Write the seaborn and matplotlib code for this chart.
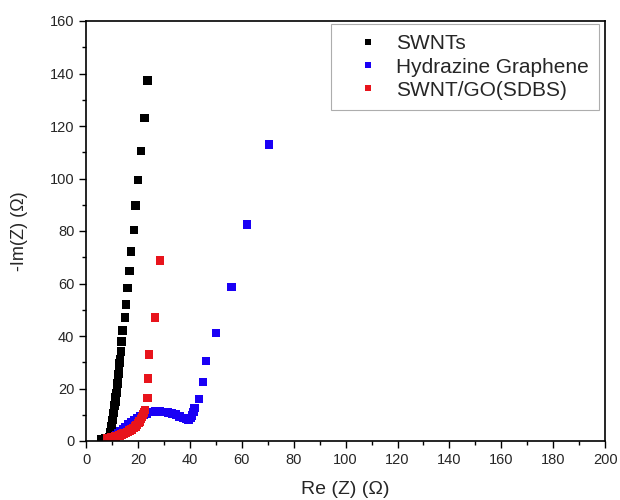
import pandas as pd
import matplotlib
matplotlib.use('Agg')
import matplotlib.pyplot as plt
from matplotlib.ticker import MultipleLocator
import seaborn as sns

sns.set_style('white')
plt.rcParams['font.family'] = ['Liberation Sans', 'DejaVu Sans']

# SWNTs (black)
swnt_re = [5.8, 7.5, 8.8, 9.2, 9.4, 9.6, 9.8, 10.0, 10.2, 10.4, 10.6, 10.8, 11.0,
           11.2, 11.4, 11.6, 11.8, 12.0, 12.2, 12.4, 12.6, 12.9, 13.1, 13.4, 13.6,
           14.1, 14.9, 15.4, 15.9, 16.6, 17.3, 18.4, 19.1, 20.0, 21.1, 22.4, 23.6]
swnt_im = [0.6, 0.9, 1.5, 2.5, 3.5, 4.5, 5.6, 6.8, 8.0, 9.3, 10.6, 12.0, 13.5,
           15.0, 16.6, 18.3, 20.0, 21.8, 23.7, 25.6, 27.6, 29.7, 31.0, 34.0, 37.8,
           42.2, 47.0, 52.1, 58.3, 64.8, 72.1, 80.3, 89.7, 99.4, 110.5, 123.1, 137.3]

# Hydrazine Graphene (blue)
hg_re = [10.0, 10.8, 11.6, 12.4, 13.3, 14.2, 15.2, 16.2, 17.3, 18.4, 19.6, 20.8,
         22.0, 23.3, 24.8, 26.5, 28.2, 29.9, 31.5, 33.1, 34.6, 36.0, 37.3, 38.4,
         39.4, 40.2, 40.8, 41.3, 41.8, 43.5, 45.1, 46.1, 50.1, 55.9, 61.9, 70.5]
hg_im = [0.8, 1.3, 2.0, 2.8, 3.6, 4.4, 5.3, 6.2, 7.0, 7.8, 8.6, 9.3,
         9.9, 10.5, 11.0, 11.2, 11.2, 11.1, 10.9, 10.5, 10.0, 9.4, 8.8, 8.3,
         8.2, 8.7, 9.7, 11.0, 12.5, 16.0, 22.4, 30.4, 41.2, 58.7, 82.4, 112.9]

# SWNT/GO(SDBS) (red)
go_re = [8.0, 8.8, 9.6, 10.4, 11.2, 12.0, 12.8, 13.6, 14.4, 15.2, 16.0, 16.8,
         17.5, 18.2, 18.9, 19.5, 20.1, 20.6, 21.1, 21.5, 21.9, 22.3, 22.6, 23.6,
         23.9, 24.2, 26.6, 28.5]
go_im = [0.9, 1.1, 1.3, 1.5, 1.7, 1.9, 2.2, 2.5, 2.8, 3.1, 3.5, 3.9,
         4.4, 4.9, 5.5, 6.1, 6.8, 7.5, 8.3, 9.1, 10.0, 10.9, 11.8, 16.4,
         23.8, 33.0, 47.0, 68.7]

labels = ['SWNTs', 'Hydrazine Graphene', 'SWNT/GO(SDBS)']
colors = ['#000000', '#1a00f5', '#e8141c']

df = pd.concat([
    pd.DataFrame({'re': swnt_re, 'im': swnt_im, 'sample': labels[0]}),
    pd.DataFrame({'re': hg_re, 'im': hg_im, 'sample': labels[1]}),
    pd.DataFrame({'re': go_re, 'im': go_im, 'sample': labels[2]}),
], ignore_index=True)

fig = plt.figure(figsize=(6.2, 5.0), dpi=100)
ax = fig.add_axes([0.139, 0.118, 0.837, 0.840])

sns.scatterplot(data=df, x='re', y='im', hue='sample', hue_order=labels,
                palette=colors, marker='s', s=38, linewidth=0, ax=ax)

ax.set_xlim(0, 200)
ax.set_ylim(0, 160)
ax.xaxis.set_major_locator(MultipleLocator(20))
ax.xaxis.set_minor_locator(MultipleLocator(10))
ax.yaxis.set_major_locator(MultipleLocator(20))
ax.yaxis.set_minor_locator(MultipleLocator(10))
ax.tick_params(which='both', direction='out', bottom=True, left=True,
               top=False, right=False, width=1, color='black')
ax.tick_params(which='major', length=5, labelsize=10.5)
ax.tick_params(which='minor', length=3)
for sp in ax.spines.values():
    sp.set_color('black')
    sp.set_linewidth(1.2)

ax.set_xlabel('Re (Z) (\u03a9)', fontsize=14, labelpad=10)
ax.set_ylabel('-Im(Z) (\u03a9)', fontsize=13, labelpad=16)

handles, _ = ax.get_legend_handles_labels()
leg = ax.legend(handles, labels, loc='upper right', bbox_to_anchor=(0.988, 0.993),
                borderaxespad=0, prop={'size': 15}, frameon=True, fancybox=False,
                markerscale=0.8, handletextpad=0.1, labelspacing=0.2,
                borderpad=0.5, handlelength=2.5)
leg.get_frame().set_edgecolor('#999999')
leg.get_frame().set_linewidth(0.8)

fig.savefig('out.png', dpi=100)
